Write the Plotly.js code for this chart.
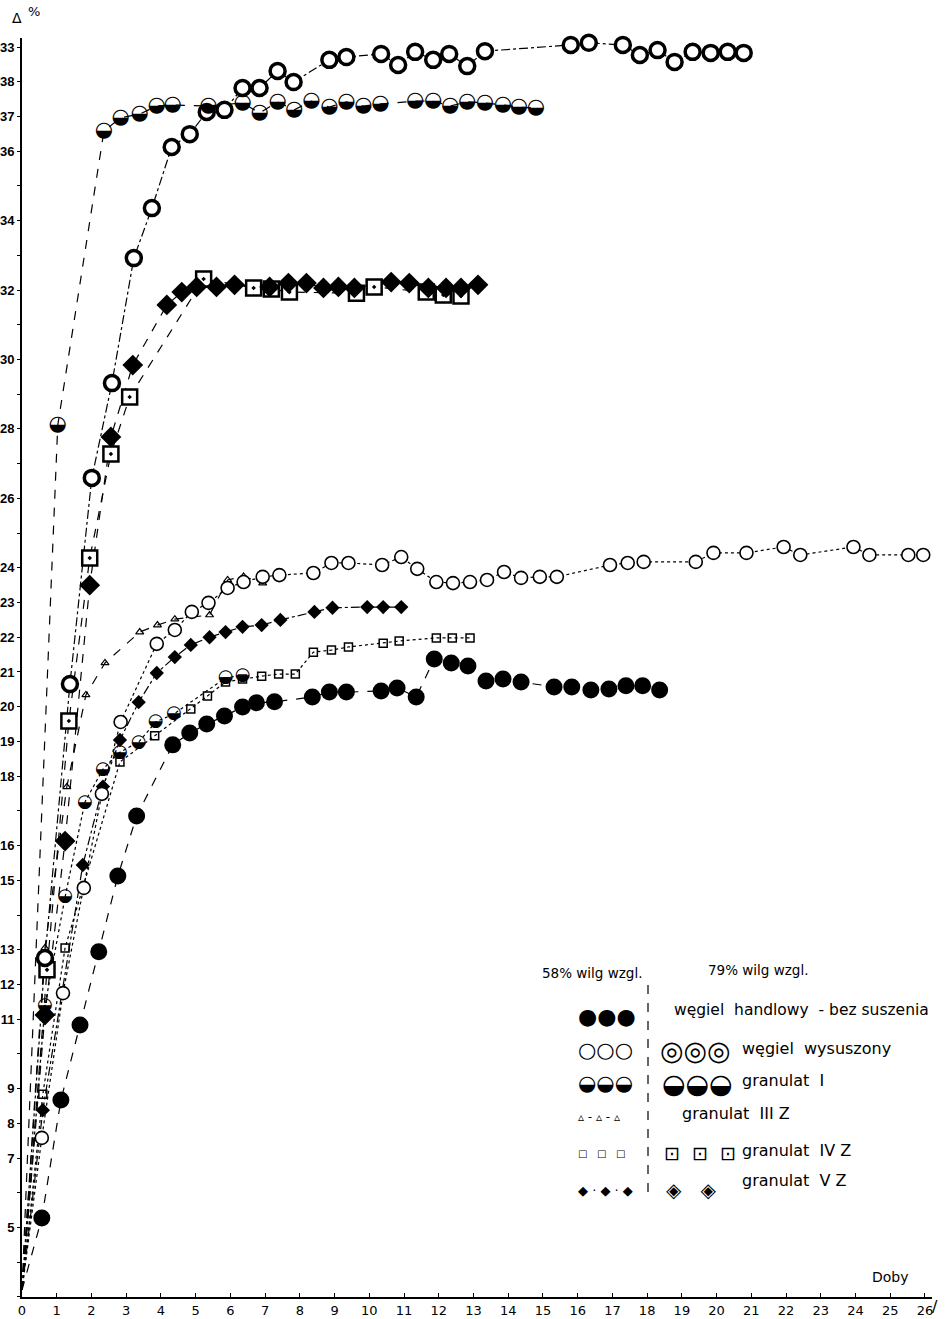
<!DOCTYPE html>
<html><head><meta charset="utf-8">
<script src="https://cdn.plot.ly/plotly-3.0.1.min.js"></script>
<style>html,body{margin:0;padding:0;background:#fff}#chart{width:946px;height:1319px}</style>
</head><body><div id="chart"></div>
<script>
// ---- data (days, Δ%) ----
const handlowyX = [0.57,1.12,1.67,2.21,2.76,3.30,4.34,4.83,5.32,5.83,6.35,6.75,7.27,8.36,8.85,9.34,10.34,10.80,11.35,11.87,12.36,12.84,13.36,13.85,14.37,15.32,15.83,16.38,16.90,17.39,17.87,18.36];
const handlowyY = [5.27,8.67,10.83,12.94,15.12,16.85,18.90,19.24,19.50,19.73,19.99,20.11,20.14,20.28,20.42,20.42,20.45,20.54,20.28,21.37,21.26,21.17,20.74,20.80,20.71,20.57,20.57,20.48,20.51,20.60,20.60,20.48];

const wysuszony58X = [0.57,1.18,1.78,2.30,2.84,3.88,4.40,4.89,5.37,5.92,6.38,6.93,7.41,8.39,8.91,9.40,10.37,10.92,11.38,11.93,12.41,12.90,13.39,13.88,14.37,14.91,15.40,16.93,17.44,17.90,19.40,19.91,20.86,21.93,22.41,23.94,24.40,25.52,25.95];
const wysuszony58Y = [7.58,11.75,14.78,17.49,19.56,21.81,22.21,22.73,22.99,23.42,23.59,23.74,23.79,23.85,24.14,24.14,24.08,24.31,23.97,23.59,23.56,23.59,23.65,23.88,23.71,23.74,23.74,24.08,24.14,24.17,24.17,24.43,24.43,24.60,24.37,24.60,24.37,24.37,24.37];

const granulatI58X = [0.66,1.24,1.81,2.33,2.82,3.36,3.85,4.37,5.86,6.35];
const granulatI58Y = [11.38,14.52,17.25,18.20,18.69,18.98,19.56,19.79,20.83,20.91];

const granulatIIIZ58X = [0.66,1.29,1.84,2.39,3.39,3.90,4.40,5.40,5.92,6.38,6.93];
const granulatIIIZ58Y = [13.05,17.69,20.34,21.26,22.15,22.35,22.52,22.64,23.65,23.75,23.56];

const granulatIVZ58X = [0.60,1.24,2.82,3.82,4.86,5.34,5.86,6.35,6.90,7.39,7.87,8.39,8.91,9.40,10.40,10.86,11.93,12.39,12.90];
const granulatIVZ58Y = [8.84,13.05,18.41,19.16,19.93,20.31,20.71,20.80,20.88,20.94,20.94,21.57,21.63,21.72,21.83,21.89,21.98,21.98,21.98];

const granulatVZ58X = [0.60,1.75,2.33,2.82,3.36,3.88,4.40,4.86,5.40,5.86,6.35,6.90,7.44,8.42,8.94,9.94,10.40,10.92];
const granulatVZ58Y = [8.38,15.44,17.70,19.04,20.13,20.97,21.43,21.78,22.00,22.15,22.30,22.35,22.50,22.73,22.85,22.87,22.87,22.87];

const wysuszony79X = [0.66,1.38,2.01,2.59,3.22,3.74,4.31,4.83,5.32,5.83,6.35,6.84,7.36,7.82,8.85,9.34,10.34,10.83,11.32,11.84,12.30,12.82,13.33,15.80,16.32,17.30,17.79,18.30,18.79,19.31,19.83,20.32,20.78];
const wysuszony79Y = [12.76,20.65,26.59,29.32,32.92,34.36,36.12,36.49,37.13,37.19,37.82,37.82,38.31,37.99,38.63,38.71,38.80,38.48,38.86,38.63,38.80,38.45,38.88,39.06,39.12,39.06,38.77,38.91,38.57,38.86,38.83,38.86,38.83];

const granulatI79X = [1.03,2.36,2.84,3.39,3.88,4.34,5.37,6.35,6.84,7.36,7.84,8.33,8.85,9.34,9.83,10.32,11.32,11.84,12.33,12.82,13.33,13.85,14.31,14.80];
const granulatI79Y = [28.11,36.58,36.96,37.07,37.30,37.33,37.30,37.39,37.10,37.42,37.19,37.44,37.27,37.42,37.30,37.36,37.44,37.44,37.30,37.42,37.39,37.33,37.27,37.24];

const granulatIVZ79X = [0.72,1.35,1.95,2.56,3.10,5.23,6.67,7.18,7.70,9.63,10.14,11.64,12.13,12.64];
const granulatIVZ79Y = [12.42,19.59,24.28,27.28,28.92,32.32,32.06,32.03,31.94,31.91,32.09,31.94,31.86,31.83];

const granulatVZ79X = [0.66,1.24,1.95,2.56,3.19,4.17,4.60,5.03,5.60,6.12,7.13,7.67,8.19,8.68,9.11,9.57,10.63,11.15,11.70,12.21,12.64,13.13];
const granulatVZ79Y = [11.12,16.13,23.50,27.77,29.84,31.57,31.94,32.09,32.09,32.15,32.09,32.20,32.20,32.06,32.09,32.06,32.23,32.20,32.06,32.06,32.06,32.15];

const originDay = 0, originVal = 3.2;

const xTickVals = [0,1,2,3,4,5,6,7,8,9,10,11,12,13,14,15,16,17,18,19,20,21,22,23,24,25,26];
const xTickText = xTickVals.map(String);
const yTickVals = [5,7,8,9,11,12,13,15,16,18,19,20,21,22,23,24,26,28,30,32,34,36,37,38,39];
const yTickText = ["5","7","8","9","11","12","13","15","16","18","19","20","21","22","23","24","26","28","30","32","34","36","37","38","33"];

// ---- layout geometry ----
const W=946,H=1319,L=22,R=14,T=38,B=22;
const PX_PER_DAY=34.73, PX_PER_UNIT=34.72;
const xMax=(W-L-R)/PX_PER_DAY;
const yMax=39+(47-T)/PX_PER_UNIT;
const yMin=yMax-(H-T-B)/PX_PER_UNIT;
const px=x=>(x-L)/(W-L-R);
const py=y=>1-(y-T)/(H-T-B);

function lineTrace(xs,ys,dash){
  return {x:[originDay].concat(xs),y:[originVal].concat(ys),mode:'lines',
    line:{color:'black',width:1.2,dash:dash},hoverinfo:'skip',showlegend:false,cliponaxis:false};
}
function markTrace(xs,ys,marker){
  return {x:xs,y:ys,mode:'markers',marker:marker,hoverinfo:'skip',showlegend:false,cliponaxis:false};
}
function glyphTrace(xs,ys,g,size){
  return {x:xs,y:ys,mode:'text',text:xs.map(()=>g),textposition:'middle center',
    textfont:{family:'DejaVu Sans',size:size,color:'black'},hoverinfo:'skip',showlegend:false,cliponaxis:false};
}

const traces=[
  lineTrace(handlowyX,handlowyY,'dash'),
  lineTrace(wysuszony58X,wysuszony58Y,'dot'),
  lineTrace(granulatI58X,granulatI58Y,'dot'),
  lineTrace(granulatIIIZ58X,granulatIIIZ58Y,'dash'),
  lineTrace(granulatIVZ58X,granulatIVZ58Y,'dot'),
  lineTrace(granulatVZ58X,granulatVZ58Y,'dashdot'),
  lineTrace(wysuszony79X,wysuszony79Y,'dashdot'),
  lineTrace(granulatI79X,granulatI79Y,'dash'),
  lineTrace(granulatIVZ79X,granulatIVZ79Y,'dash'),
  lineTrace(granulatVZ79X,granulatVZ79Y,'dash'),
  markTrace(granulatIIIZ58X,granulatIIIZ58Y,{symbol:'triangle-up-open',size:7,color:'black',line:{width:1.2,color:'black'}}),
  markTrace(granulatIVZ58X,granulatIVZ58Y,{symbol:'square-open',size:8,color:'black',line:{width:1.5,color:'black'}}),
  markTrace(granulatVZ58X,granulatVZ58Y,{symbol:'diamond',size:11,color:'black',line:{width:0}}),
  markTrace(wysuszony58X,wysuszony58Y,{symbol:'circle',size:13,color:'white',line:{width:1.6,color:'black'}}),
  glyphTrace(granulatI58X,granulatI58Y,'◒',18),
  markTrace(handlowyX,handlowyY,{symbol:'circle',size:17,color:'black',line:{width:0}}),
  markTrace(granulatIVZ79X,granulatIVZ79Y,{symbol:'square-dot',size:15,color:'white',line:{width:2.5,color:'black'}}),
  markTrace(granulatVZ79X,granulatVZ79Y,{symbol:'diamond',size:16,color:'black',line:{width:0}}),
  markTrace(wysuszony79X,wysuszony79Y,{symbol:'circle',size:15,color:'white',line:{width:3.5,color:'black'}}),
  glyphTrace(granulatI79X,granulatI79Y,'◒',21)
];

const f=(s,extra)=>Object.assign({family:'DejaVu Sans',size:s,color:'black'},extra||{});
function ann(text,x,y,size,extra){
  return {text:text,xref:'paper',yref:'paper',x:px(x),y:py(y),xanchor:'left',yanchor:'middle',
    showarrow:false,font:f(size,extra)};
}
const annotations=[
  ann('Δ',10,18,14),
  ann('%',26,12,13),
  ann('Doby',870,1277,14),
  ann('/',930,1306,16),
  ann('58% wilg wzgl.',540,973,13.5),
  ann('79% wilg wzgl.',706,970,13.5),
  ann('●●●',576,1016,22),
  ann('węgiel  handlowy  - bez suszenia',672,1010,15.5),
  ann('○○○',576,1050,21),
  ann('◎◎◎',658,1050,27,{weight:'bold'}),
  ann('węgiel  wysuszony',740,1048,16),
  ann('◒◒◒',576,1083,21),
  ann('◒◒◒',660,1083,27),
  ann('granulat  I',740,1080,16),
  ann('▵ - ▵ - ▵',576,1117,12),
  ann('granulat  III Z',680,1113,16),
  ann('□   □   □',576,1153,10),
  ann('⊡  ⊡  ⊡',662,1153,19),
  ann('granulat  IV Z',740,1150,16),
  ann('◆ · ◆ · ◆',576,1190,13),
  ann('◈   ◈',664,1190,20),
  ann('granulat  V Z',740,1180,16)
];

const layout={
  width:W,height:H,margin:{l:L,r:R,t:T,b:B},
  paper_bgcolor:'white',plot_bgcolor:'white',showlegend:false,
  xaxis:{range:[0,xMax],tickmode:'array',tickvals:xTickVals,ticktext:xTickText,
    showgrid:false,zeroline:false,showline:true,linecolor:'black',linewidth:2,
    ticks:'inside',ticklen:4,tickcolor:'black',tickfont:{family:'DejaVu Sans',size:13,color:'black'}},
  yaxis:{range:[yMin,yMax],tickmode:'array',tickvals:yTickVals,ticktext:yTickText,
    showgrid:false,zeroline:false,showline:true,linecolor:'black',linewidth:2,
    ticks:'outside',ticklen:3,tickcolor:'black',ticklabelstandoff:0,
    tickfont:{family:'Liberation Sans',size:13,color:'black',weight:'bold'},
    minor:{tickmode:'linear',tick0:0,dtick:1,ticks:'outside',ticklen:3,tickcolor:'black'}},
  shapes:[{type:'line',xref:'paper',yref:'paper',x0:px(648),x1:px(648),y0:py(985),y1:py(1195),
    line:{color:'black',width:1.2,dash:'dash'}}],
  annotations:annotations
};
Plotly.newPlot('chart',traces,layout,{staticPlot:true});
</script></body></html>
